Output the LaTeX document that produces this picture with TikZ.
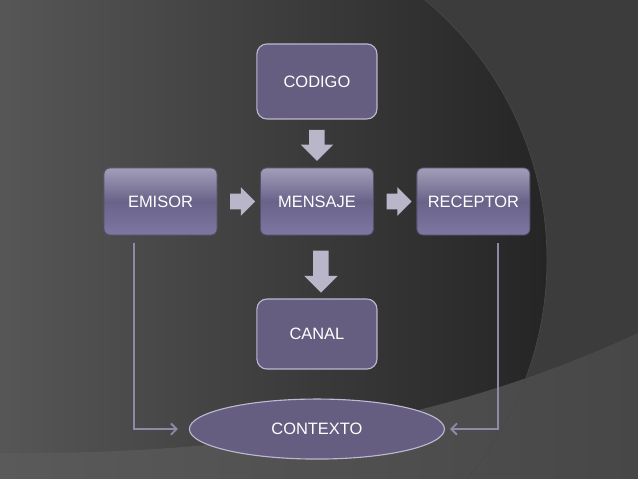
\documentclass[tikz,border=0pt]{standalone}
\usepackage{fontspec}
\setmainfont{Liberation Sans}
\usetikzlibrary{positioning, calc, arrows.meta, shapes.geometric, shapes.arrows}

\definecolor{bgout}{HTML}{3C3C3C}
\definecolor{bglight}{HTML}{626262}
\definecolor{bgdark}{HTML}{252525}
\definecolor{bandl}{HTML}{5A5A5A}
\definecolor{bandr}{HTML}{474747}
\definecolor{boxtop}{HTML}{A29EB8}
\definecolor{boxmid}{HTML}{6A6389}
\definecolor{boxbot}{HTML}{7D77A2}
\definecolor{boxline}{HTML}{55506C}
\definecolor{plainfill}{HTML}{655E80}
\definecolor{plainline}{HTML}{BDB8D2}
\definecolor{arrowfill}{HTML}{B8B6C8}
\definecolor{linkcol}{HTML}{8E8AA6}

\begin{document}
\begin{tikzpicture}[x=0.025cm, y=0.025cm, node distance=3.91cm,
    every node/.style={text=white, font=\fontsize{11.7}{14}\selectfont},
    box/.style={rectangle, rounded corners=0.15cm, draw=boxline, line width=0.6pt, top color=boxtop, bottom color=boxbot, middle color=boxmid, minimum width=2.825cm, minimum height=1.675cm},
    plainbox/.style={rectangle, rounded corners=0.25cm, draw=plainline, line width=0.8pt, fill=plainfill, minimum width=3cm},
    blockarrow/.style={single arrow, fill=arrowfill, draw=none, inner xsep=0pt, inner ysep=0.1875cm},
    downarrow/.style={single arrow, fill=arrowfill, draw=none, inner xsep=0.1875cm, inner ysep=0pt, shape border rotate=270},
    link/.style={draw=linkcol, line width=1.3pt, -{Straight Barb[length=4pt, width=8pt]}}]

    % Background
    \useasboundingbox (0,0) rectangle (638,479);
    \fill[bgout] (0,0) rectangle (638,479);
    \begin{scope}
        \clip (0,0) rectangle (638,479);
        \shade[left color=bglight, right color=bgdark] (209,219) circle (338);
        \shade[left color=bandl, right color=bandr] (0,0) -- (0,26) .. controls (250,24) and (450,59) .. (638,146) -- (638,0) -- cycle;
        \draw[bandl!80!black, line width=0.5pt] (209,219) circle (338);
    \end{scope}

    % Define the boxes (nodes)
    \node[box] (emisor) at (160.5,277.5) {EMISOR}; % left box
    \node[box, right of=emisor] (mensaje) {MENSAJE}; % middle box
    \node[box, right of=mensaje] (receptor) {RECEPTOR}; % right box
    \node[plainbox, node distance=3cm, above of=mensaje, minimum height=1.875cm] (codigo) {CODIGO};
    \node[plainbox, node distance=3.3125cm, below of=mensaje, minimum height=1.75cm] (canal) {CANAL};
    \node[ellipse, draw=plainline, line width=0.8pt, fill=plainfill, minimum width=6.375cm, minimum height=1.5cm,
          node distance=2.375cm, below of=canal] (contexto) {CONTEXTO};

    % Block arrows between the boxes
    \node[downarrow, minimum height=0.775cm, single arrow head extend=0.2125cm] (codarrow) at ($(codigo)!0.5!(mensaje)$) {};
    \node[blockarrow, minimum height=0.625cm, single arrow head extend=0.1625cm] (emiarrow) at ($(emisor)!0.5!(mensaje)$) {};
    \node[blockarrow, minimum height=0.625cm, single arrow head extend=0.1625cm] (recarrow) at ($(mensaje)!0.5!(receptor)$) {};
    \node[downarrow, minimum height=1.05cm, single arrow head extend=0.225cm] (canarrow) at ($(mensaje)!0.5!(canal)+(4,0)$) {};

    % Define the links to the context
    \draw[link] ($(emisor.south)+(-26.5,-8)$) |- ($(contexto.west)+(-11,0)$);
    \draw[link] ($(receptor.south)+(24.5,-8)$) |- ($(contexto.east)+(5,0)$);
\end{tikzpicture}
\end{document}
